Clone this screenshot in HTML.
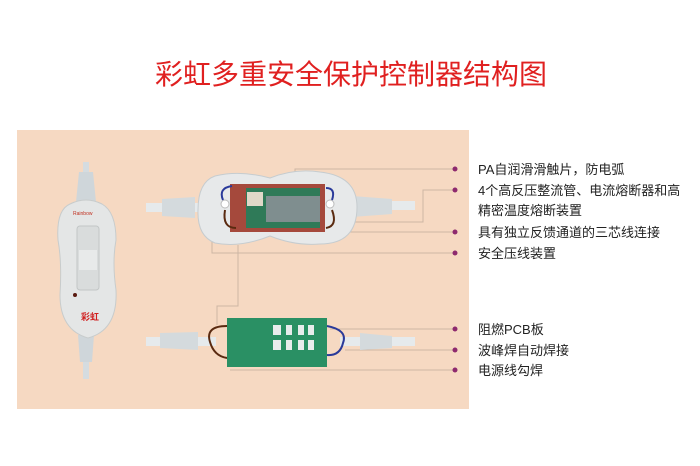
<!DOCTYPE html>
<html><head><meta charset="utf-8"><style>
body{margin:0;width:700px;height:466px;background:#fff;overflow:hidden;font-family:"Liberation Sans","Noto Sans CJK SC",sans-serif}
</style></head><body>
<svg width="700" height="466" xmlns="http://www.w3.org/2000/svg" style="position:absolute;left:0;top:0">
<text x="351" y="84" text-anchor="middle" font-family="Liberation Sans,Noto Sans CJK SC,sans-serif" font-size="28" fill="#e02020">彩虹多重安全保护控制器结构图</text>
<rect x="17" y="130" width="452" height="279" fill="#f6d9c2"/>
<g stroke="#cdb6a4" stroke-width="1" fill="none">
<polyline points="295,178 295,169 455,169"/>
<polyline points="300,222 423,222 423,190 455,190"/>
<polyline points="320,232 455,232"/>
<polyline points="212,240 212,253 455,253"/>
<polyline points="238,245 238,306 217,306 217,325"/>
<polyline points="330,329 455,329"/>
<polyline points="345,350 455,350"/>
<polyline points="230,370 455,370"/>
</g>
<g fill="#8e2a6e"><circle cx="455" cy="169" r="2.5"/><circle cx="455" cy="190" r="2.5"/><circle cx="455" cy="232" r="2.5"/><circle cx="455" cy="253" r="2.5"/><circle cx="455" cy="329" r="2.5"/><circle cx="455" cy="350" r="2.5"/><circle cx="455" cy="370" r="2.5"/></g>
<rect x="83" y="162" width="6" height="40" fill="#d5dce0"/>
<path d="M79 172 L93 172 L96 202 L76 202 Z" fill="#cfd6da"/>
<rect x="83" y="335" width="6" height="44" fill="#d5dce0"/>
<path d="M78 335 L94 335 L92 362 L80 362 Z" fill="#cfd6da"/>
<path d="M70 204 Q86 196 102 204 Q116 212 116 240 Q112 262 116 290 Q118 330 88 338 Q60 330 60 295 Q62 262 58 240 Q56 210 70 204 Z" fill="#e4e6e6" stroke="#c8cccc"/>
<rect x="77" y="226" width="22" height="64" rx="3" fill="#d9dcdc" stroke="#c2c6c6"/>
<rect x="79" y="250" width="18" height="20" fill="#e8eaea"/>
<circle cx="75" cy="295" r="2" fill="#5a1a10"/>
<text x="81" y="320" font-size="9" fill="#d02020" font-weight="bold">彩虹</text>
<text x="73" y="215" font-size="5" fill="#c03020">Rainbow</text>
<rect x="146" y="203" width="60" height="9" fill="#e6eaec"/>
<path d="M162 199 L195 197 L195 218 L162 216 Z" fill="#d4dadd"/>
<rect x="350" y="201" width="65" height="9" fill="#e6eaec"/>
<path d="M352 196 L392 199 L392 214 L352 217 Z" fill="#d4dadd"/>
<path d="M215 176 Q240 170 270 178 Q295 168 320 172 Q357 176 357 207 Q357 244 320 244 Q295 246 270 236 Q240 248 215 243 Q197 236 198 210 Q198 182 215 176 Z" fill="#e7e9ea" stroke="#c6cccf"/>
<rect x="230" y="184" width="95" height="48" fill="#a5493c"/>
<rect x="246" y="188" width="74" height="40" fill="#2f7a58"/>
<rect x="266" y="196" width="54" height="26" fill="#7f8e8f"/>
<rect x="247" y="192" width="16" height="14" fill="#e0d8c8"/>
<circle cx="225" cy="204" r="4" fill="#fff" stroke="#bbb"/>
<circle cx="330" cy="204" r="4" fill="#fff" stroke="#bbb"/>
<path d="M223 200 Q218 188 232 186" stroke="#2a3a9a" stroke-width="2" fill="none"/>
<path d="M225 210 Q222 228 236 228" stroke="#5a2a10" stroke-width="2" fill="none"/>
<path d="M332 200 Q336 188 326 188" stroke="#2a3a9a" stroke-width="2" fill="none"/>
<path d="M332 210 Q338 226 326 228" stroke="#5a2a10" stroke-width="2" fill="none"/>
<rect x="146" y="337" width="70" height="9" fill="#e6eaec"/>
<path d="M160 333 L198 332 L198 350 L160 348 Z" fill="#d4dadd"/>
<rect x="340" y="337" width="75" height="9" fill="#e6eaec"/>
<path d="M360 333 L392 336 L392 348 L360 350 Z" fill="#d4dadd"/>
<path d="M227 326 Q205 326 210 342 Q214 356 227 358" stroke="#5a2a10" stroke-width="2" fill="none"/>
<path d="M327 326 Q348 330 343 343 Q340 356 327 355" stroke="#2a3a9a" stroke-width="2" fill="none"/>
<rect x="227" y="318" width="100" height="49" fill="#2a9064"/>
<g fill="#e8ecec"><rect x="273" y="325" width="8" height="10"/><rect x="286" y="325" width="6" height="10"/><rect x="298" y="325" width="6" height="10"/><rect x="308" y="325" width="6" height="10"/><rect x="273" y="340" width="8" height="10"/><rect x="286" y="340" width="6" height="10"/><rect x="298" y="340" width="6" height="10"/><rect x="308" y="340" width="6" height="10"/></g>
<g font-size="13" fill="#222" font-family="Liberation Sans,Noto Sans CJK SC,sans-serif">
<text x="478" y="174">PA自润滑滑触片，防电弧</text>
<text x="478" y="195">4个高反压整流管、电流熔断器和高</text>
<text x="478" y="215">精密温度熔断装置</text>
<text x="478" y="237">具有独立反馈通道的三芯线连接</text>
<text x="478" y="258">安全压线装置</text>
<text x="478" y="334">阻燃PCB板</text>
<text x="478" y="355">波峰焊自动焊接</text>
<text x="478" y="375">电源线勾焊</text>
</g>
</svg>
</body></html>
